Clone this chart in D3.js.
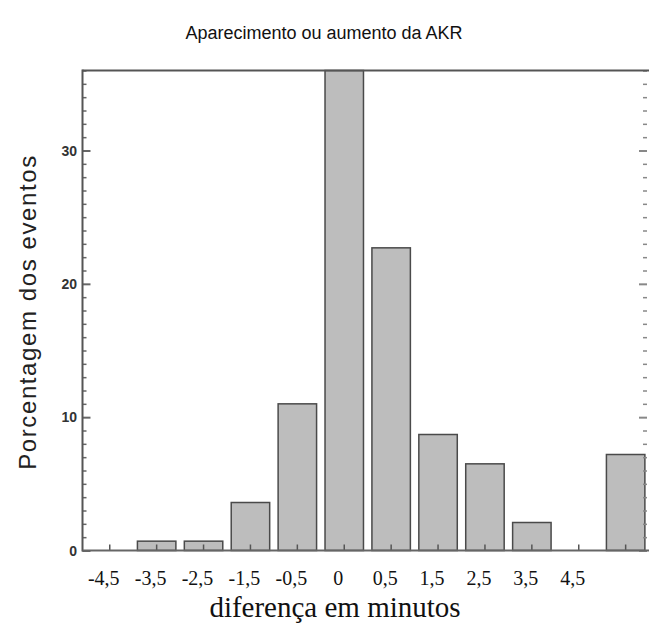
<!DOCTYPE html>
<html>
<head>
<meta charset="utf-8">
<script src="https://cdn.jsdelivr.net/npm/d3@7"></script>
<style>
  body { margin: 0; background: #fff; }
  svg { display: block; }
</style>
</head>
<body>
<svg id="chart" width="649" height="627"></svg>
<script>
// ---- data ----
const categories = ["-4.5", "-3.5", "-2.5", "-1.5", "-0.5", "0", "0.5", "1.5", "2.5", "3.5", "4.5", "extra"];
const tickLabels = ["-4,5", "-3,5", "-2,5", "-1,5", "-0,5", "0", "0,5", "1,5", "2,5", "3,5", "4,5", ""];
const values = [0, 0.7, 0.7, 3.6, 11.0, 36, 22.7, 8.7, 6.5, 2.1, 0, 7.2];
const yTickValues = [0, 10, 20, 30];
const titleText = "Aparecimento ou aumento da AKR";
const xTitleText = "diferença em minutos";
const yTitleText = "Porcentagem dos eventos";

(function () {
// ---- layout ----
const svg = d3.select("#chart");
const pLeft = 82.5, pRight = 647, pTop = 70.5, pBottom = 550.5;

const x = d3.scaleBand()
  .domain(categories)
  .range([86.3, 649.1])
  .paddingInner(0.18)
  .paddingOuter(0.09);

const y = d3.scaleLinear().domain([0, 36]).range([pBottom, pTop]);

// bars
svg.append("g").selectAll("rect")
  .data(values.map((v, i) => ({ c: categories[i], v })).filter(d => d.v > 0))
  .join("rect")
  .attr("x", d => x(d.c))
  .attr("y", d => y(Math.min(d.v, 36)))
  .attr("width", x.bandwidth())
  .attr("height", d => pBottom - y(Math.min(d.v, 36)))
  .attr("fill", "#bdbdbd")
  .attr("stroke", "#4a4a4a")
  .attr("stroke-width", 1.5);

// x ticks (inward, at bar centres)
svg.append("g").selectAll("line")
  .data(categories)
  .join("line")
  .attr("x1", d => x(d) + x.bandwidth() / 2)
  .attr("x2", d => x(d) + x.bandwidth() / 2)
  .attr("y1", pBottom)
  .attr("y2", pBottom - 6)
  .attr("stroke", "#555")
  .attr("stroke-width", 1.5);

// x tick labels
svg.append("g").selectAll("text")
  .data(categories)
  .join("text")
  .attr("x", d => x(d) + x.bandwidth() / 2 - 6)
  .attr("y", 585)
  .attr("text-anchor", "middle")
  .attr("font-family", "'Liberation Serif', 'DejaVu Serif', serif")
  .attr("font-size", 20)
  .attr("fill", "#111")
  .text((d, i) => tickLabels[i]);

// y axis with minor ticks (left, inward)
const minor = d3.range(0, 37, 1);
const yAxisL = d3.axisRight(y).tickValues(minor).tickSize(4).tickFormat("");
const gL = svg.append("g").attr("transform", `translate(${pLeft},0)`).call(yAxisL);
gL.selectAll("line").attr("stroke", "#666").attr("stroke-width", 1.5);
gL.select(".domain").remove();
gL.selectAll(".tick").filter(d => yTickValues.includes(d)).select("line").attr("x2", 8).attr("stroke-width", 2);

// right axis ticks (inward)
const yAxisR = d3.axisLeft(y).tickValues(minor).tickSize(4).tickFormat("");
const gR = svg.append("g").attr("transform", `translate(${pRight},0)`).call(yAxisR);
gR.selectAll("line").attr("stroke", "#888").attr("stroke-width", 1.5);
gR.select(".domain").remove();
gR.selectAll(".tick").filter(d => yTickValues.includes(d)).select("line").attr("x2", -8).attr("stroke-width", 2);

// y labels
svg.append("g").selectAll("text")
  .data(yTickValues)
  .join("text")
  .attr("x", 77)
  .attr("y", d => y(d) + 5)
  .attr("text-anchor", "end")
  .attr("font-family", "'Liberation Sans', Arial, sans-serif")
  .attr("font-weight", "bold")
  .attr("font-size", 14)
  .attr("fill", "#333")
  .text(d => d);

// frame
svg.append("line").attr("x1", pLeft).attr("x2", pLeft).attr("y1", pTop - 1).attr("y2", pBottom + 1)
  .attr("stroke", "#555").attr("stroke-width", 2);
svg.append("line").attr("x1", pLeft).attr("x2", 649).attr("y1", pTop).attr("y2", pTop)
  .attr("stroke", "#555").attr("stroke-width", 2);
svg.append("line").attr("x1", pLeft).attr("x2", 649).attr("y1", pBottom).attr("y2", pBottom)
  .attr("stroke", "#666").attr("stroke-width", 2);

// titles
svg.append("text")
  .attr("x", 324).attr("y", 39)
  .attr("text-anchor", "middle")
  .attr("font-family", "'Liberation Sans', Arial, sans-serif")
  .attr("font-size", 18)
  .attr("fill", "#111")
  .text(titleText);

svg.append("text")
  .attr("x", 335).attr("y", 617)
  .attr("text-anchor", "middle")
  .attr("font-family", "'Liberation Sans', Arial, sans-serif")
  .attr("font-family", "'Liberation Serif', 'DejaVu Serif', serif")
  .attr("font-size", 29)
  .attr("fill", "#111")
  .text(xTitleText);

svg.append("text")
  .attr("transform", "translate(36,312) rotate(-90)")
  .attr("text-anchor", "middle")
  .attr("font-family", "'Liberation Sans', Arial, sans-serif")
  .attr("font-size", 24)
  .attr("letter-spacing", 1.6)
  .attr("fill", "#222")
  .text(yTitleText);
})();
</script>
</body>
</html>
